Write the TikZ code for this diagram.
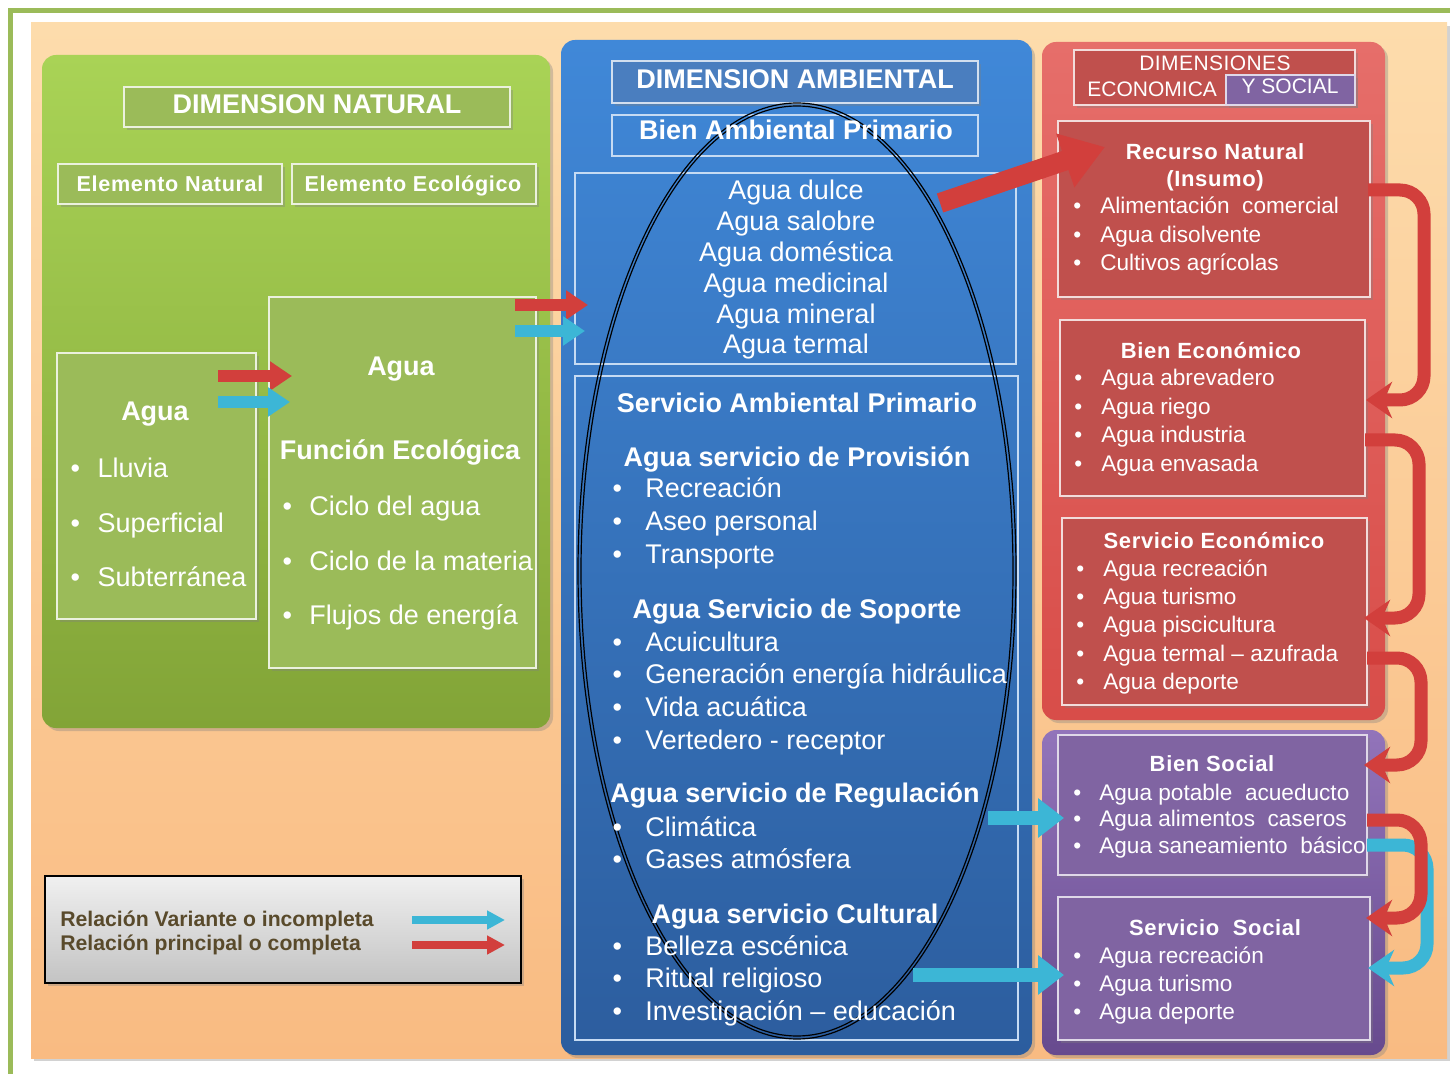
\documentclass[tikz,border=0pt]{standalone}
\usepackage{fontspec}
\setmainfont{Liberation Sans}
\usetikzlibrary{arrows.meta,fit,shadows,calc}

\definecolor{frameg}{HTML}{9BBB59}
\definecolor{peachT}{HTML}{FDDCAC}
\definecolor{peachB}{HTML}{F9BB82}
\definecolor{greenT}{HTML}{A9D356}
\definecolor{greenB}{HTML}{82A437}
\definecolor{gbox}{HTML}{9BBB59}
\definecolor{blueT}{HTML}{4088D8}
\definecolor{blueB}{HTML}{2C5D9E}
\definecolor{btit}{HTML}{4A7EBF}
\definecolor{redT}{HTML}{E66E6A}
\definecolor{redB}{HTML}{D84D49}
\definecolor{rbox}{HTML}{C0504D}
\definecolor{purT}{HTML}{9274BA}
\definecolor{purB}{HTML}{674A8E}
\definecolor{pbox}{HTML}{8064A2}
\definecolor{arrred}{HTML}{D23F3C}
\definecolor{arrcyan}{HTML}{3CB6D6}
\definecolor{legT}{HTML}{F0F0F0}
\definecolor{legB}{HTML}{C3C3C3}
\definecolor{legtext}{HTML}{594A2B}

\newcommand{\BL}[2]{\begin{tabular}[t]{@{}l@{\hspace{#1}}l@{}}#2\end{tabular}}
\newcommand{\CL}[1]{\begin{tabular}[t]{@{}c@{}}#1\end{tabular}}
\newcommand{\bu}{\textbullet}

\begin{document}
\begin{tikzpicture}[x=0.5pt,y=-0.5pt,
  shad/.style={drop shadow={opacity=.35,shadow xshift=1.5pt,shadow yshift=-1.5pt}},
  panel/.style={inner sep=0pt, rounded corners=7pt, shad},
  inbox/.style={inner sep=0pt, line width=0.8pt, shad},
  gin/.style={inbox, fill=gbox, draw=white!80!gbox},
  rin/.style={inbox, fill=rbox, draw=white!80!rbox},
  pin/.style={inbox, fill=pbox, draw=white!75!pbox},
  bin/.style={inner sep=0pt, line width=0.7pt, draw=white!70!blueT},
  wtxt/.style={text=white, inner sep=0pt},
  hb/.style={wtxt, font=\bfseries\fontsize{13.5}{16}\selectfont},
  hr/.style={wtxt, font=\bfseries\fontsize{11}{13.5}\selectfont\addfontfeatures{LetterSpace=3}},
  lbig/.style={wtxt, font=\fontsize{13.5}{27.25}\selectfont},
  lblue/.style={wtxt, font=\fontsize{13.5}{16.4}\selectfont},
  lred/.style={wtxt, font=\fontsize{11.3}{14.2}\selectfont},
  ell/.style={draw=black, line width=0.6pt},
  rarr/.style={draw=arrred, line width=6pt, -{Triangle[width=14pt,length=11pt]}},
  carr/.style={draw=arrcyan, line width=6pt, -{Triangle[width=14pt,length=11pt]}},
  bigred/.style={draw=arrred, line width=10pt, -{Triangle[width=27pt,length=21pt]}},
  bigcyan/.style={draw=arrcyan, line width=7pt, -{Triangle[width=19pt,length=13pt]}},
  legred/.style={draw=arrred, line width=4pt, -{Triangle[width=9pt,length=9pt]}},
  legcyan/.style={draw=arrcyan, line width=4pt, -{Triangle[width=9pt,length=9pt]}},
  curvred/.style={draw=arrred, line width=6.5pt, rounded corners=12pt, -{Stealth[width=18pt,length=13pt,inset=4pt]}},
  curvcyan/.style={draw=arrcyan, line width=6.5pt, rounded corners=12pt, -{Stealth[width=18pt,length=13pt,inset=4pt]}}
]
\useasboundingbox (0,0) rectangle (1450,1074);
\fill[white] (0,0) rectangle (1450,1074);
\draw[line width=2.6pt, frameg] (10.5,1074) -- (10.5,10.5) -- (1450,10.5);

% background
\node[fit={(31,23) (1447,1058)}, inner sep=0pt, top color=peachT, bottom color=peachB, shad] (bg) {};

% ---------------- green panel ----------------
\node[panel, fit={(42,55) (550,728)}, top color=greenT, bottom color=greenB] (pg) {};
\node[gin, fit={(124,87) (510,127)}] (gtitle) {};
\node[gin, fit={(58,164) (282,204)}] (gel1) {};
\node[gin, fit={(292,164) (536,204)}] (gel2) {};
\node[gin, fit={(57,353) (256,619)}] (gagua1) {};
\node[gin, fit={(269,297) (536,668)}] (gagua2) {};

\node[hb, anchor=base] (tNat) at (317,114) {DIMENSION NATURAL};
\node[wtxt, font=\bfseries\fontsize{10.8}{13}\selectfont\addfontfeatures{LetterSpace=3}, anchor=base] (tEN) at (170,192) {Elemento Natural};
\node[wtxt, font=\bfseries\fontsize{10.8}{13}\selectfont\addfontfeatures{LetterSpace=3}, anchor=base] (tEE) at (413,192) {Elemento Ecológico};
\node[hb, anchor=base] (tAg1) at (155,421) {Agua};
\node[lbig, anchor=base west] (lAg1) at (70.3,478) {\BL{8.8pt}{\bu & Lluvia\\ \bu & Superficial\\ \bu & Subterránea}};
\node[hb, anchor=base] (tAg2) at (401,376) {Agua};
\node[hb, anchor=base] (tFE) at (400,460) {Función Ecológica};
\node[lbig, anchor=base west] (lAg2) at (282.3,516) {\BL{8.6pt}{\bu & Ciclo del agua\\ \bu & Ciclo de la materia\\ \bu & Flujos de energía}};

% ---------------- blue panel ----------------
\node[panel, fit={(561,40) (1032,1055)}, top color=blueT, bottom color=blueB] (pb) {};
\node[inbox, fit={(612,61) (978,103)}, fill=btit, draw=white!75!btit] (btitle) {};
\node[bin, fit={(612,115) (978,156)}] (bbien) {};
\node[bin, fit={(575,173) (1016,364)}] (blist) {};
\node[bin, fit={(575,376) (1018,1040)}] (bserv) {};

\draw[ell] (797,571) ellipse [x radius=109.5pt, y radius=234pt];
\draw[ell] (797,571) ellipse [x radius=108pt, y radius=232.5pt];

\node[hb, anchor=base] (tAmb) at (795,89) {DIMENSION AMBIENTAL};
\node[hb, anchor=base] (tBAP) at (796,140) {Bien Ambiental Primario};
\node[wtxt, font=\fontsize{13.5}{15.4}\selectfont, anchor=base] (lAguas) at (796,200)
  {\CL{Agua dulce\\Agua salobre\\Agua doméstica\\Agua medicinal\\Agua mineral\\Agua termal}};
\node[hb, anchor=base] (tSAP) at (797,413) {Servicio Ambiental Primario};
\node[hb, anchor=base] (tProv) at (797,467) {Agua servicio de Provisión};
\node[lblue, anchor=base west] (lProv) at (612.3,498) {\BL{11.6pt}{\bu & Recreación\\ \bu & Aseo personal\\ \bu & Transporte}};
\node[hb, anchor=base] (tSop) at (797,618) {Agua Servicio de Soporte};
\node[lblue, anchor=base west] (lSop) at (612.3,651) {\BL{11.6pt}{\bu & Acuicultura\\ \bu & Generación energía hidráulica\\ \bu & Vida acuática\\ \bu & Vertedero - receptor}};
\node[hb, anchor=base] (tReg) at (795,802) {Agua servicio de Regulación};
\node[lblue, anchor=base west] (lReg) at (612.3,836) {\BL{11.6pt}{\bu & Climática\\ \bu & Gases atmósfera}};
\node[hb, anchor=base] (tCul) at (795,923) {Agua servicio Cultural};
\node[lblue, anchor=base west] (lCul) at (612.3,955) {\BL{11.6pt}{\bu & Belleza escénica\\ \bu & Ritual religioso\\ \bu & Investigación -- educación}};

% ---------------- red panel ----------------
\node[panel, fit={(1042,42) (1385,720)}, top color=redT, bottom color=redB] (pr) {};
\node[rin, fit={(1074,50) (1355,105)}] (rtitle) {};
\node[inbox, fit={(1226,75) (1355,105)}, fill=pbox, draw=white!75!pbox] (rsoc) {};
\node[rin, fit={(1058,121) (1370,297)}] (rrec) {};
\node[rin, fit={(1060,320) (1365,496)}] (rbien) {};
\node[rin, fit={(1062,518) (1367,705)}] (rserv) {};

\node[wtxt, font=\fontsize{10.5}{12}\selectfont\addfontfeatures{LetterSpace=2}, anchor=base] (tDims) at (1215,71) {DIMENSIONES};
\node[wtxt, font=\fontsize{10.5}{12}\selectfont, anchor=base west] (tEco) at (1087,97) {ECONOMICA};
\node[wtxt, font=\fontsize{10.5}{12}\selectfont, anchor=base] (tSoc) at (1290,94) {Y SOCIAL};

\node[hr, anchor=base] (tRec) at (1215,160) {\CL{Recurso Natural\\(Insumo)}};
\node[lred, anchor=base west] (lRec) at (1073,214) {\BL{9.5pt}{\bu & Alimentación\ \ comercial\\ \bu & Agua disolvente\\ \bu & Cultivos agrícolas}};
\node[hr, anchor=base] (tBE) at (1211,359) {Bien Económico};
\node[lred, anchor=base west] (lBE) at (1074,386) {\BL{9.5pt}{\bu & Agua abrevadero\\ \bu & Agua riego\\ \bu & Agua industria\\ \bu & Agua envasada}};
\node[hr, anchor=base] (tSE) at (1214,548) {Servicio Económico};
\node[lred, anchor=base west] (lSE) at (1076,576) {\BL{9.5pt}{\bu & Agua recreación\\ \bu & Agua turismo\\ \bu & Agua piscicultura\\ \bu & Agua termal -- azufrada\\ \bu & Agua deporte}};

% ---------------- purple panel ----------------
\node[panel, fit={(1042,730) (1385,1055)}, top color=purT, bottom color=purB] (pp) {};
\node[pin, fit={(1058,735) (1367,875)}] (pbien) {};
\node[pin, fit={(1058,897) (1370,1040)}] (pserv) {};

\node[hr, anchor=base] (tBS) at (1212,771) {Bien Social};
\node[wtxt, font=\fontsize{11.3}{13.3}\selectfont, anchor=base west] (lBS) at (1073,800) {\BL{9pt}{\bu & Agua potable\ \ acueducto\\ \bu & Agua alimentos\ \ caseros\\ \bu & Agua saneamiento\ \ básico}};
\node[hr, anchor=base] (tSS) at (1215,935) {Servicio\ \ Social};
\node[lred, anchor=base west] (lSS) at (1073,963) {\BL{9pt}{\bu & Agua recreación\\ \bu & Agua turismo\\ \bu & Agua deporte}};

% ---------------- legend ----------------
\node[fit={(45,876) (521,983)}, inner sep=0pt, top color=legT, bottom color=legB, draw=black, line width=0.9pt, shad] (leg) {};
\node[inner sep=0pt, text=legtext, font=\bfseries\fontsize{10.6}{12}\selectfont, anchor=base west] (legtxt) at (60,926)
  {\begin{tabular}[t]{@{}l@{}}Relación Variante o incompleta\\Relación principal o completa\end{tabular}};

% ---------------- arrows ----------------
\coordinate (a1s) at (218,376); \coordinate (a1e) at (292,376);
\coordinate (a2s) at (218,402); \coordinate (a2e) at (290,402);
\coordinate (a3s) at (515,305); \coordinate (a3e) at (588,305);
\coordinate (a4s) at (515,331); \coordinate (a4e) at (585,331);
\coordinate (a5s) at (940,203); \coordinate (a5e) at (1105,147);
\coordinate (a6s) at (988,818); \coordinate (a6e) at (1064,818);
\coordinate (a7s) at (913,975); \coordinate (a7e) at (1064,975);
\coordinate (l1s) at (412,920); \coordinate (l1e) at (505,920);
\coordinate (l2s) at (412,945); \coordinate (l2e) at (505,945);

\draw[rarr] (a1s) -- (a1e);
\draw[carr] (a2s) -- (a2e);
\draw[rarr] (a3s) -- (a3e);
\draw[carr] (a4s) -- (a4e);
\draw[bigred] (a5s) -- (a5e);
\draw[bigcyan] (a6s) -- (a6e);
\draw[bigcyan] (a7s) -- (a7e);
\draw[legcyan] (l1s) -- (l1e);
\draw[legred] (l2s) -- (l2e);

\coordinate (c1s) at (1368,190); \coordinate (c1e) at (1366,400);
\coordinate (c2s) at (1365,440); \coordinate (c2e) at (1364,618);
\coordinate (c3s) at (1367,658); \coordinate (c3e) at (1364,765);
\coordinate (c4s) at (1367,845); \coordinate (c4e) at (1368,968);
\coordinate (c5s) at (1367,820); \coordinate (c5e) at (1366,918);

\draw[curvred] (c1s) -- ++(56,0) |- (c1e);
\draw[curvred] (c2s) -- ++(54,0) |- (c2e);
\draw[curvred] (c3s) -- ++(54,0) |- (c3e);
\draw[curvcyan] (c4s) -- ++(60,0) |- (c4e);
\draw[curvred] (c5s) -- ++(54,0) |- (c5e);
\end{tikzpicture}
\end{document}
